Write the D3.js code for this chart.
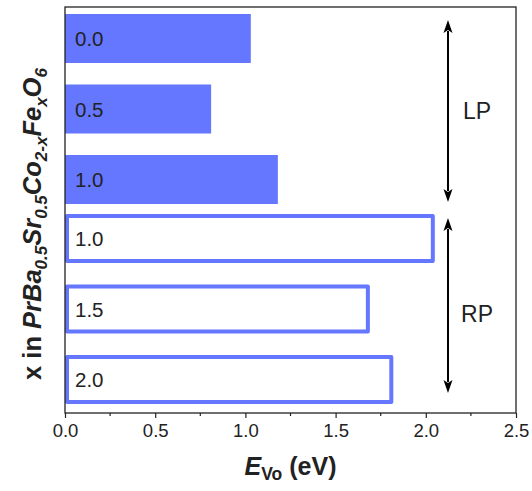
<!DOCTYPE html>
<html>
<head>
<meta charset="utf-8">
<script src="https://cdn.jsdelivr.net/npm/d3@7"></script>
<style>
  html, body { margin: 0; padding: 0; background: #fff; }
  svg { display: block; }
  text { font-family: "Liberation Sans", Arial, Helvetica, sans-serif; fill: #222; }
</style>
</head>
<body>
<svg id="chart" width="532" height="491"></svg>
<script>
// x value of each composition, top to bottom
const compositions = ["0.0", "0.5", "1.0", "1.0", "1.5", "2.0"];
// phase of each row: LP (filled bars) or RP (outlined bars)
const phases = ["LP", "LP", "LP", "RP", "RP", "RP"];
// oxygen-vacancy formation energy, eV
const energies = [1.03, 0.81, 1.18, 2.05, 1.69, 1.82];
const xTicks = [0, 0.5, 1.0, 1.5, 2.0, 2.5];
const xMinorTicks = [0.25, 0.75, 1.25, 1.75, 2.25];
const phaseLabels = ["LP", "RP"];

const rows = compositions.map((c, i) => ({ key: i, label: c, phase: phases[i], value: energies[i] }));

const svg = d3.select("#chart");
const blue = "#6677ff";
const ink = "#222";

const plotLeft = 65, plotRight = 516, plotTop = 7, plotBottom = 413;

const x = d3.scaleLinear().domain([0, 2.5]).range([plotLeft, plotRight]);
const y = d3.scaleBand().domain(rows.map(d => d.key)).range([14, 415.5]).paddingInner(0.305).paddingOuter(0);
const groupGap = -11.5; // RP rows sit a little closer to the LP rows
const rowY = d => y(d.key) + (d.phase === "RP" ? groupGap : 0);
const bw = y.bandwidth();

// bars
const sw = 4;
svg.append("g").selectAll("rect").data(rows).join("rect")
  .attr("x", d => d.phase === "LP" ? x(0) : x(0) + sw / 2)
  .attr("y", d => d.phase === "LP" ? rowY(d) : rowY(d) + sw / 2)
  .attr("width", d => d.phase === "LP" ? x(d.value) - x(0) : x(d.value) - x(0) - sw)
  .attr("height", d => d.phase === "LP" ? bw : bw - sw)
  .attr("fill", d => d.phase === "LP" ? blue : "#fff")
  .attr("stroke", d => d.phase === "LP" ? "none" : blue)
  .attr("stroke-width", sw)
  .attr("stroke-linejoin", "round");

// composition labels inside bars
svg.append("g").selectAll("text").data(rows).join("text")
  .attr("x", x(0) + 10)
  .attr("y", d => rowY(d) + bw / 2)
  .attr("dy", "0.37em")
  .attr("font-size", 20.5)
  .text(d => d.label);

// frame
svg.append("rect")
  .attr("x", plotLeft).attr("y", plotTop)
  .attr("width", plotRight - plotLeft).attr("height", plotBottom - plotTop)
  .attr("fill", "none").attr("stroke", ink).attr("stroke-width", 1.3);

// bottom axis
const xAxis = svg.append("g").attr("transform", `translate(0,${plotBottom})`)
  .call(d3.axisBottom(x).tickValues(xTicks).tickFormat(d3.format(".1f")).tickSize(5).tickPadding(6));
xAxis.select(".domain").remove();
xAxis.selectAll("line").attr("stroke", ink).attr("stroke-width", 1.2);
xAxis.selectAll("text").attr("font-size", 18.5).attr("fill", ink)
  .style("font-family", "'Liberation Sans', Arial, sans-serif");
svg.append("g").selectAll("line").data(xMinorTicks).join("line")
  .attr("x1", d => x(d)).attr("x2", d => x(d))
  .attr("y1", plotBottom).attr("y2", plotBottom + 3)
  .attr("stroke", ink).attr("stroke-width", 1.2);

// x-axis title
const xt = svg.append("text")
  .attr("x", (plotLeft + plotRight) / 2).attr("y", 475)
  .attr("text-anchor", "middle").attr("font-size", 25).attr("font-weight", "bold");
xt.append("tspan").attr("font-style", "italic").text("E");
xt.append("tspan").attr("font-size", 17.5).attr("dy", 5).text("Vo");
xt.append("tspan").attr("dy", -5).text(" (eV)");

// y-axis title
const yt = svg.append("text")
  .attr("transform", "translate(41,224) rotate(-90)")
  .attr("text-anchor", "middle").attr("font-size", 25.5).attr("font-weight", "bold");
const parts = [
  ["x in ", false, false], ["PrBa", true, false], ["0.5", true, true],
  ["Sr", true, false], ["0.5", true, true], ["Co", true, false], ["2-x", true, true],
  ["Fe", true, false], ["x", true, true], ["O", true, false], ["6", true, true]
];
let shifted = false;
parts.forEach(([t, it, sub]) => {
  const ts = yt.append("tspan").text(t);
  if (it) ts.attr("font-style", "italic");
  if (sub && !shifted) { ts.attr("dy", 6); shifted = true; }
  else if (!sub && shifted) { ts.attr("dy", -6); shifted = false; }
  if (sub) ts.attr("font-size", 17);
});

// phase brackets: double-headed arrows with labels
const ax = x(2.123);
const groups = [
  { name: phaseLabels[0], y1: rowY(rows[0]) + 6, y2: rowY(rows[2]) + bw - 2, ly: rowY(rows[1]) + bw / 2 + 1.5 },
  { name: phaseLabels[1], y1: rowY(rows[3]) + 4, y2: rowY(rows[5]) + bw - 11, ly: rowY(rows[4]) + bw / 2 + 5 }
];
const head = 13, hw = 4.5;
const ag = svg.append("g");
groups.forEach(g => {
  ag.append("line").attr("x1", ax).attr("x2", ax)
    .attr("y1", g.y1 + head - 2).attr("y2", g.y2 - head + 2)
    .attr("stroke", "#000").attr("stroke-width", 2);
  ag.append("path")
    .attr("d", `M${ax},${g.y1} L${ax - hw},${g.y1 + head} L${ax},${g.y1 + head - 3} L${ax + hw},${g.y1 + head} Z`)
    .attr("fill", "#000");
  ag.append("path")
    .attr("d", `M${ax},${g.y2} L${ax - hw},${g.y2 - head} L${ax},${g.y2 - head + 3} L${ax + hw},${g.y2 - head} Z`)
    .attr("fill", "#000");
  ag.append("text").attr("x", 477).attr("y", g.ly).attr("dy", "0.36em")
    .attr("text-anchor", "middle").attr("font-size", 23).text(g.name);
});
</script>
</body>
</html>
